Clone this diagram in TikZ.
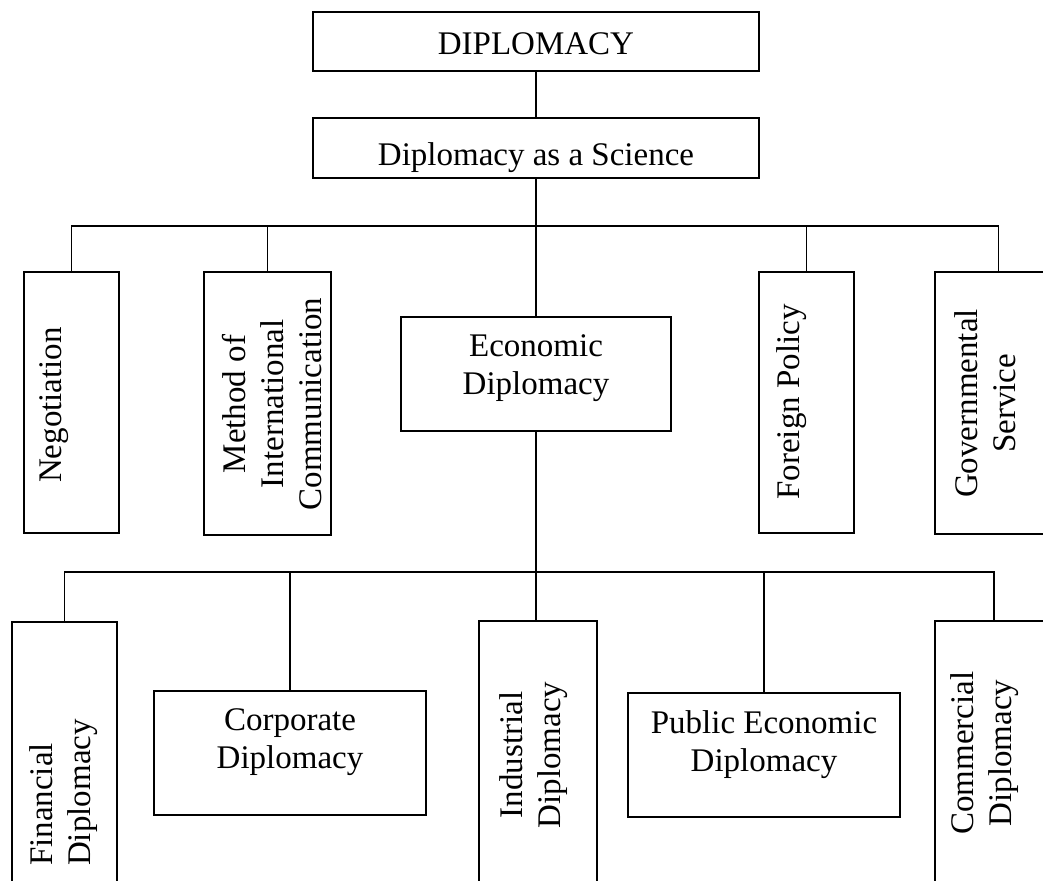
\documentclass[tikz,border=0pt]{standalone}
\usepackage{fontspec}
\setmainfont{Liberation Serif}

\begin{document}
\begin{tikzpicture}[x=1pt,y=-1pt,
    box/.style={draw,black,line width=1.5pt,inner sep=0pt},
    txt/.style={align=center,inner sep=0pt,font=\fontsize{33}{38}\selectfont},
    vtxt/.style={txt,rotate=90},
    link/.style={black,line width=1.5pt}]
    \useasboundingbox (0,0) rectangle (1043,880);
    \clip (0,0) rectangle (1043,880);

    % top of the tree
    \node[box,minimum width=446pt,minimum height=59pt] (diplo) at (536,41.5) {};
    \node[txt] (diplotxt) at (536,44) {DIPLOMACY};
    \node[box,minimum width=446pt,minimum height=60pt] (sci) at (536,148) {};
    \node[txt] (scitxt) at (536,157.5) {Diplomacy as a Science};

    % first level
    \node[box,minimum width=95pt,minimum height=261pt] (neg) at (71.5,402.5) {};
    \node[vtxt] (negtxt) at (54.5,405) {Negotiation};
    \node[box,minimum width=127pt,minimum height=263pt] (meth) at (267.5,403.5) {};
    \node[vtxt] (methtxt) at (272.5,404) {Method of\\International\\Communication};
    \node[box,minimum width=270pt,minimum height=114pt] (econ) at (536,374) {};
    \node[txt] (econtxt) at (536,368.5) {Economic\\Diplomacy};
    \node[box,minimum width=95pt,minimum height=261pt] (forp) at (806.5,402.5) {};
    \node[vtxt] (forptxt) at (792,402) {Foreign Policy};
    \node[box,minimum width=127pt,minimum height=262pt] (govs) at (998.5,403) {};
    \node[vtxt] (govstxt) at (985.5,403.5) {Governmental\\Service};

    % second level
    \node[box,minimum width=105pt,minimum height=360pt] (fin) at (64.5,802) {};
    \node[vtxt,align=left] (fintxt) at (63.5,792.5) {Financial\\Diplomacy};
    \node[box,minimum width=272pt,minimum height=124pt] (corp) at (290,753) {};
    \node[txt] (corptxt) at (290,742.5) {Corporate\\Diplomacy};
    \node[box,minimum width=118pt,minimum height=360pt] (ind) at (538,801) {};
    \node[vtxt] (indtxt) at (533.5,755) {Industrial\\Diplomacy};
    \node[box,minimum width=272pt,minimum height=124pt] (pub) at (764,755) {};
    \node[txt] (pubtxt) at (764,745) {Public Economic\\Diplomacy};
    \node[box,minimum width=118pt,minimum height=360pt] (com) at (994,801) {};
    \node[vtxt] (comtxt) at (985,753) {Commercial\\Diplomacy};

    \coordinate (bus1) at (536,226);
    \coordinate (bus2) at (536,572);

    % connectors
    \draw[link] (diplo.south) -- (sci.north);
    \draw[link] (sci.south) -- (econ.north);
    \draw[link] (neg.north) |- (bus1) -| (govs.north);
    \draw[link] (meth.north) -- (meth.north |- bus1);
    \draw[link] (forp.north) -- (forp.north |- bus1);
    \draw[link] (econ.south) -- (econ.south |- ind.north);
    \draw[link] (fin.north) |- (bus2) -| (com.north);
    \draw[link] (corp.north) -- (corp.north |- bus2);
    \draw[link] (pub.north) -- (pub.north |- bus2);
\end{tikzpicture}
\end{document}
